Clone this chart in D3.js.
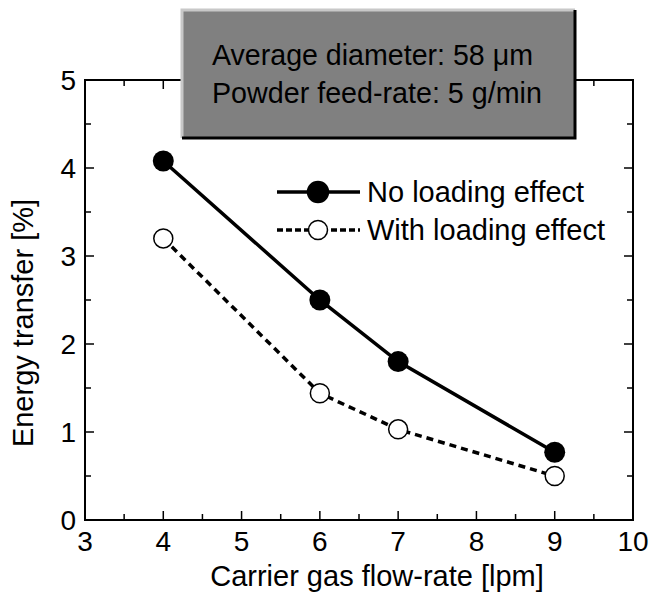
<!DOCTYPE html>
<html>
<head>
<meta charset="utf-8">
<script src="https://cdn.jsdelivr.net/npm/d3@7"></script>
<style>
  body { margin: 0; background: #fff; }
  svg text { font-family: "Liberation Sans", Arial, "DejaVu Sans", sans-serif; }
</style>
</head>
<body>
<svg id="canvas" width="654" height="594"></svg>
<script>
// data
let flowRates = [4, 6, 7, 9];
let noLoading = [4.08, 2.5, 1.8, 0.77];
let withLoading = [3.2, 1.44, 1.03, 0.5];
let xTicks = [3, 4, 5, 6, 7, 8, 9, 10];
let yTicks = [0, 1, 2, 3, 4, 5];
let seriesNames = ['No loading effect', 'With loading effect'];
let infoLines = ['Average diameter: 58 \u03bcm', 'Powder feed-rate: 5 g/min'];

let svg = d3.select('#canvas');
let plotL = 85, plotR = 633, plotT = 80, plotB = 520;
let fs = 29;

// shrink a text to the width it has in the reference
let fitWidth = (sel, w) => {
    let len = sel.node().getComputedTextLength();
    if (len > w) {
        sel.attr('font-size', fs * w / len);
    }
    return sel;
};

let x = d3.scaleLinear().domain([3, 10]).range([plotL, plotR]);
let y = d3.scaleLinear().domain([0, 5]).range([plotB, plotT]);

// frame
svg.append('rect')
    .attr('x', plotL).attr('y', plotT)
    .attr('width', plotR - plotL).attr('height', plotB - plotT)
    .attr('fill', 'none').attr('stroke', '#000').attr('stroke-width', 2);

// ticks (inward) on all four sides
let minorX = d3.range(3.5, 10, 1);
let minorY = d3.range(0.5, 5, 1);
let g = svg.append('g').attr('stroke', '#000').attr('stroke-width', 1.5);
xTicks.concat(minorX).forEach((v) => {
    let len = Number.isInteger(v) ? 9 : 6;
    g.append('line').attr('x1', x(v)).attr('x2', x(v)).attr('y1', plotB).attr('y2', plotB - len);
    g.append('line').attr('x1', x(v)).attr('x2', x(v)).attr('y1', plotT).attr('y2', plotT + len);
});
yTicks.concat(minorY).forEach((v) => {
    let len = Number.isInteger(v) ? 9 : 6;
    g.append('line').attr('y1', y(v)).attr('y2', y(v)).attr('x1', plotL).attr('x2', plotL + len);
    g.append('line').attr('y1', y(v)).attr('y2', y(v)).attr('x1', plotR).attr('x2', plotR - len);
});

// tick labels
svg.selectAll('.xt').data(xTicks).enter().append('text')
    .attr('x', (d) => x(d)).attr('y', plotB + 31)
    .attr('text-anchor', 'middle').attr('font-size', 28)
    .text((d) => d);
svg.selectAll('.yt').data(yTicks).enter().append('text')
    .attr('x', plotL - 9).attr('y', (d) => y(d) + 10)
    .attr('text-anchor', 'end').attr('font-size', 28)
    .text((d) => d);

// axis titles
fitWidth(svg.append('text')
    .attr('x', 377).attr('y', 586)
    .attr('text-anchor', 'middle').attr('font-size', fs)
    .text('Carrier gas flow-rate [lpm]'), 338);
fitWidth(svg.append('text')
    .attr('transform', 'translate(33,323) rotate(-90)')
    .attr('text-anchor', 'middle').attr('font-size', fs)
    .text('Energy transfer [%]'), 252);

// lines
let line = d3.line().x((d) => x(d[0])).y((d) => y(d[1]));
let noPts = flowRates.map((v, i) => [v, noLoading[i]]);
let withPts = flowRates.map((v, i) => [v, withLoading[i]]);

svg.append('path').attr('d', line(withPts))
    .attr('fill', 'none').attr('stroke', '#000').attr('stroke-width', 3.5)
    .attr('stroke-dasharray', '7,5');
svg.append('path').attr('d', line(noPts))
    .attr('fill', 'none').attr('stroke', '#000').attr('stroke-width', 3.5);

svg.selectAll('.op').data(withPts).enter().append('circle')
    .attr('cx', (d) => x(d[0])).attr('cy', (d) => y(d[1])).attr('r', 9.5)
    .attr('fill', '#fff').attr('stroke', '#000').attr('stroke-width', 1.5);
svg.selectAll('.fp').data(noPts).enter().append('circle')
    .attr('cx', (d) => x(d[0])).attr('cy', (d) => y(d[1])).attr('r', 10.5)
    .attr('fill', '#000');

// legend
let legY = [192, 230];
seriesNames.forEach((name, i) => {
    let ly = legY[i];
    svg.append('line').attr('x1', 277).attr('x2', 360).attr('y1', ly).attr('y2', ly)
        .attr('stroke', '#000').attr('stroke-width', 3.5)
        .attr('stroke-dasharray', i === 0 ? null : '6,3');
    svg.append('circle').attr('cx', 318).attr('cy', ly).attr('r', i === 0 ? 10.5 : 9.5)
        .attr('fill', i === 0 ? '#000' : '#fff')
        .attr('stroke', '#000').attr('stroke-width', 1.5);
    fitWidth(svg.append('text').attr('x', 367).attr('y', ly + 10)
        .attr('font-size', fs).text(name), i === 0 ? 222 : 245);
});

// info box with bevel
let bx = 182, by = 10, bw = 393, bh = 128;
svg.append('rect').attr('x', bx).attr('y', by).attr('width', bw).attr('height', bh)
    .attr('fill', '#808080');
svg.append('path').attr('d', `M${bx},${by + bh} V${by} H${bx + bw}`)
    .attr('fill', 'none').attr('stroke', '#c8c8c8').attr('stroke-width', 3);
svg.append('path').attr('d', `M${bx + bw},${by} V${by + bh} H${bx}`)
    .attr('fill', 'none').attr('stroke', '#000').attr('stroke-width', 3);
infoLines.forEach((t, i) => {
    fitWidth(svg.append('text').attr('x', 212).attr('y', 65 + i * 38)
        .attr('font-size', fs).text(t), i === 0 ? 321 : 330);
});
</script>
</body>
</html>
